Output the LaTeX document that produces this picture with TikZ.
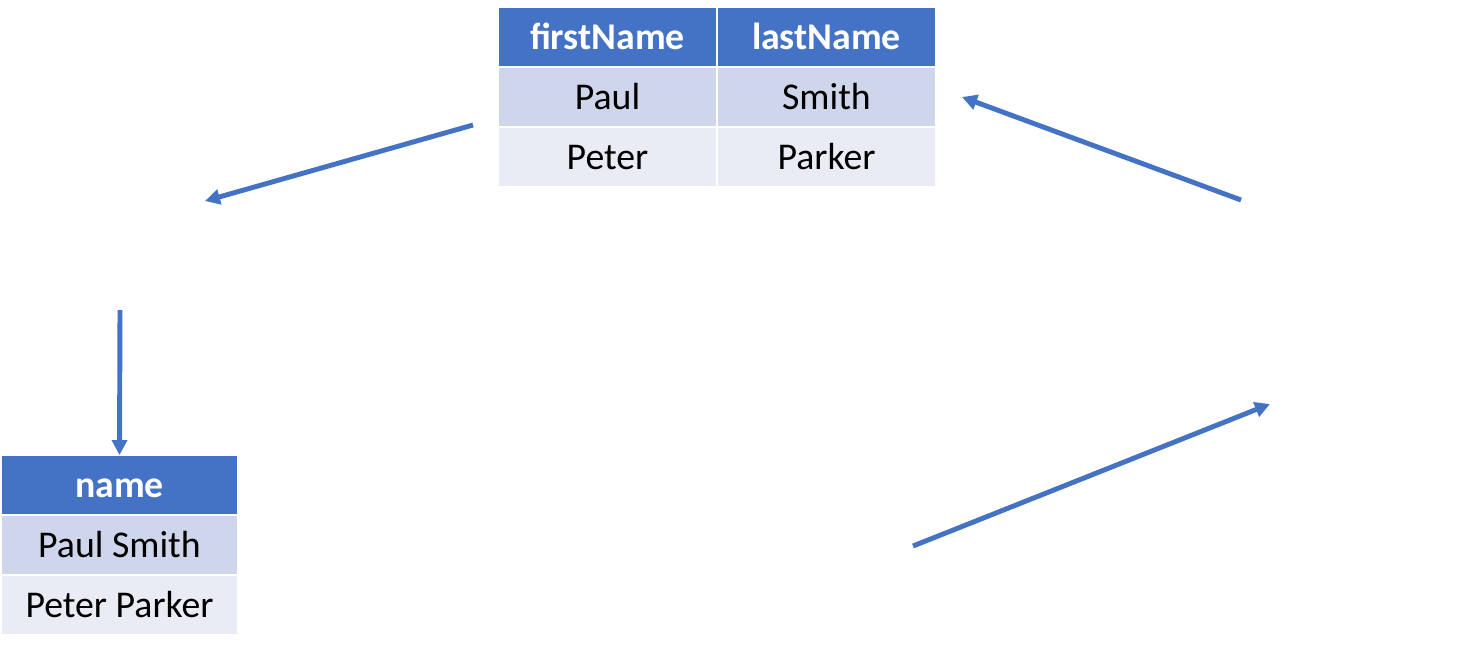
\documentclass[tikz,border=0pt]{standalone}
\usepackage{fontspec}
\setmainfont{Carlito}
\usepackage{xcolor}
\usetikzlibrary{arrows.meta}
\usetikzlibrary{positioning}
\definecolor{officeblue}{RGB}{68,114,196}
\definecolor{rowdark}{RGB}{207,213,234}
\definecolor{rowlight}{RGB}{233,235,245}

\tikzset{
 cell/.style={rectangle, draw=white, line width=1.4pt, outer sep=0pt, inner sep=0pt,
   minimum width=4.38cm, minimum height=1.2cm, text height=13.8pt, text depth=0pt,
   font=\fontsize{21.5}{25}\selectfont},
 headcell/.style={cell, fill=officeblue, text=white, font=\fontsize{21.5}{25}\selectfont\bfseries},
 oddcell/.style={cell, fill=rowdark},
 evencell/.style={cell, fill=rowlight},
 flow/.style={-{Triangle[length=0.3cm, width=0.3cm]}, line width=2.8pt, color=officeblue}
}

\begin{document}
\begin{tikzpicture}[x=0.02cm, y=-0.02cm, node distance=0pt]
 \useasboundingbox (0,0) rectangle (1462,664);

 %source table:
 \node[headcell] (first) at (607.5,37) {firstName};
 \node[headcell, right=of first] (last) {lastName};
 \node[oddcell, below=of first] (paul) {Paul};
 \node[oddcell, below=of last] (smith) {Smith};
 \node[evencell, below=of paul] (peter) {Peter};
 \node[evencell, below=of smith] (parker) {Parker};

 %result table:
 \node[headcell, minimum width=4.74cm] (name) at (119.5,485) {name};
 \node[oddcell, minimum width=4.74cm, below=of name] (paulsmith) {Paul Smith};
 \node[evencell, minimum width=4.74cm, below=of paulsmith] (peterparker) {Peter Parker};

 %arrow ends
 \coordinate (a1) at (473,125);
 \coordinate (a2) at (205,201);
 \coordinate (b1) at (120,310);
 \coordinate (c1) at (913,546);
 \coordinate (c2) at (1270,404);
 \coordinate (d1) at (1241,200);
 \coordinate (d2) at (962,97);

 %arrows:
 \draw[flow] (a1) -- (a2);
 \draw[flow] (b1) -- (name.north);
 \draw[flow] (c1) -- (c2);
 \draw[flow] (d1) -- (d2);
\end{tikzpicture}
\end{document}
